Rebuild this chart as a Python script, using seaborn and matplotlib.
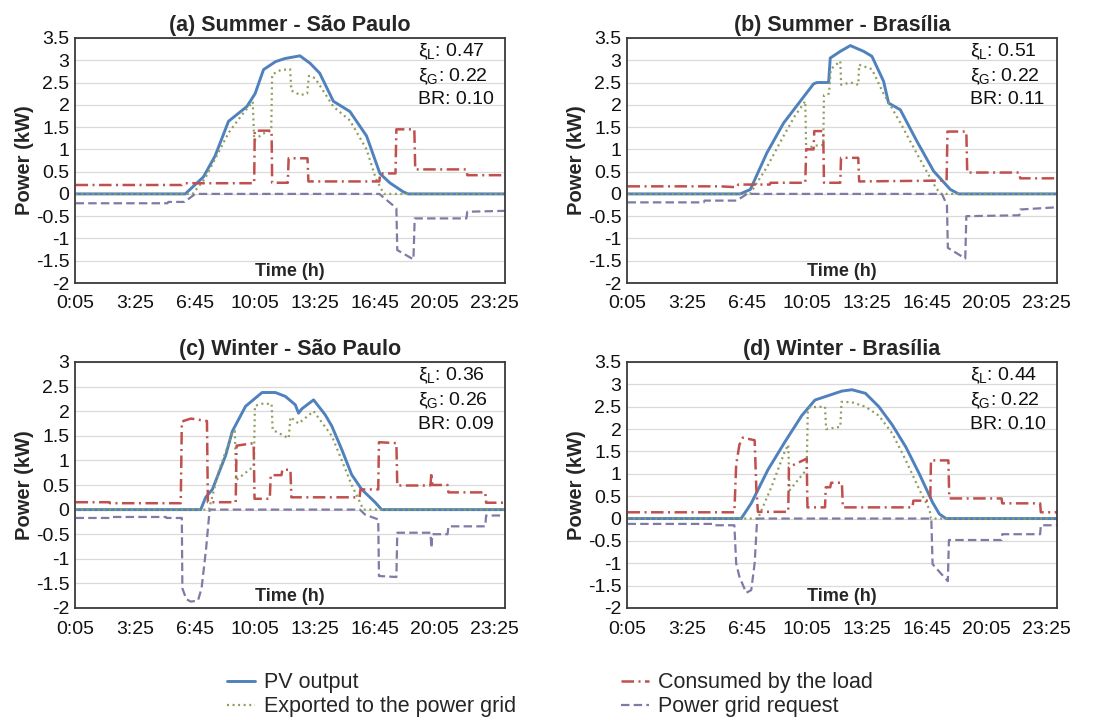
import matplotlib
matplotlib.use("Agg")
import matplotlib.pyplot as plt
from matplotlib.lines import Line2D
import pandas as pd
import seaborn as sns

# ---- time axis (hours of the day, 5-minute resolution, 0:05 .. 24:00) ----
tick_hours = [0.0833, 3.4167, 6.75, 10.0833, 13.4167, 16.75, 20.0833, 23.4167]
tick_labels = ["0:05", "3:25", "6:45", "10:05", "13:25", "16:45", "20:05", "23:25"]

panel_titles = ["(a) Summer - São Paulo", "(b) Summer - Brasília",
                "(c) Winter - São Paulo", "(d) Winter - Brasília"]
xi_load = [0.47, 0.51, 0.36, 0.44]
xi_grid = [0.22, 0.22, 0.26, 0.22]
br_ratio = [0.10, 0.11, 0.09, 0.10]

series_names = ["PV output", "Exported to the power grid",
                "Consumed by the load", "Power grid request"]

# ---- (a) Summer - São Paulo ----
a_pv_t = [0.08, 6.19, 7.2, 7.85, 8.6, 9.62, 10.08, 10.55, 11.22, 11.75, 12.58, 13.15, 13.68,
          14.44, 15.36, 16.29, 17.03, 17.58, 18.32, 18.6, 24.0]
a_pv_kw = [0, 0, 0.38, 0.85, 1.63, 1.96, 2.25, 2.79, 2.97, 3.04, 3.10, 2.93, 2.71,
           2.08, 1.85, 1.3, 0.46, 0.25, 0.05, 0, 0]
a_exp_t = [0.08, 6.6, 7.3, 8.0, 8.6, 9.3, 9.95, 10.03, 10.5, 10.98, 11.03, 11.5, 12.03, 12.1,
           12.6, 12.98, 13.08, 13.42, 14.44, 15.36, 16.29, 16.8, 17.25, 24.0]
a_exp_kw = [0, 0, 0.35, 0.9, 1.37, 1.75, 2.07, 1.2, 1.35, 1.42, 2.68, 2.78, 2.8, 2.32,
            2.22, 2.25, 2.65, 2.6, 1.96, 1.65, 1.0, 0.35, 0, 0]
a_load_t = [0.08, 6.0, 6.1, 10.03, 10.06, 11.0, 11.03, 11.9, 11.95, 13.0, 13.05, 17.0, 17.05,
            17.9, 17.95, 18.95, 19.0, 21.85, 21.9, 24.0]
a_load_kw = [0.2, 0.2, 0.24, 0.24, 1.42, 1.42, 0.25, 0.25, 0.8, 0.8, 0.28, 0.28, 0.46,
             0.46, 1.45, 1.45, 0.55, 0.55, 0.42, 0.42]
a_grid_t = [0.08, 5.2, 5.25, 6.15, 6.75, 17.0, 17.95, 18.0, 18.9, 18.97, 21.85, 21.9, 24.0]
a_grid_kw = [-0.21, -0.21, -0.18, -0.18, 0, 0, -0.32, -1.26, -1.47, -0.55, -0.55, -0.4, -0.38]

# ---- (b) Summer - Brasília ----
b_pv_t = [0.08, 6.36, 6.92, 7.84, 8.77, 9.70, 10.44, 10.63, 11.28, 11.37, 11.93, 12.49, 13.23,
          13.69, 14.34, 14.62, 15.27, 16.2, 17.13, 18.06, 18.52, 24.0]
b_pv_kw = [0, 0, 0.1, 0.92, 1.59, 2.08, 2.47, 2.5, 2.5, 3.05, 3.2, 3.33, 3.2,
           3.09, 2.53, 2.04, 1.89, 1.18, 0.51, 0.1, 0, 0]
b_exp_t = [0.08, 6.9, 7.84, 8.77, 9.4, 9.98, 10.03, 10.44, 10.98, 11.02, 11.3, 11.4, 11.93,
           11.98, 12.5, 12.93, 12.98, 13.69, 14.34, 15.27, 16.2, 17.13, 17.5, 24.0]
b_exp_kw = [0, 0, 0.6, 1.3, 1.75, 2.08, 1.0, 1.08, 1.1, 2.22, 2.25, 2.8, 2.98,
            2.45, 2.5, 2.45, 2.9, 2.8, 2.25, 1.6, 0.9, 0.22, 0, 0]
b_load_t = [0.08, 5.25, 6.17, 6.25, 8.0, 8.05, 9.98, 10.03, 10.44, 10.48, 10.98, 11.02, 11.93,
            11.97, 12.93, 12.98, 17.85, 17.9, 18.95, 19.0, 21.9, 21.95, 24.0]
b_load_kw = [0.17, 0.17, 0.15, 0.21, 0.21, 0.25, 0.25, 1.0, 1.0, 1.41, 1.41, 0.25, 0.25,
             0.81, 0.81, 0.28, 0.3, 1.4, 1.4, 0.48, 0.48, 0.35, 0.35]
b_grid_t = [0.08, 4.32, 4.37, 6.17, 6.73, 17.59, 17.87, 17.92, 18.89, 18.95, 21.9, 21.95, 24.0]
b_grid_kw = [-0.19, -0.19, -0.15, -0.15, 0, 0, -0.25, -1.21, -1.45, -0.5, -0.48, -0.35, -0.3]

# ---- (c) Winter - São Paulo ----
c_pv_t = [0.08, 7.05, 7.33, 7.7, 8.44, 8.81, 9.55, 10.47, 11.21, 11.77, 12.32, 12.5, 12.69,
          13.34, 13.98, 14.35, 14.91, 15.46, 16.02, 16.76, 17.13, 24.0]
c_pv_kw = [0, 0, 0.25, 0.41, 1.1, 1.59, 2.1, 2.38, 2.38, 2.3, 2.13, 1.96, 2.05,
           2.23, 1.93, 1.7, 1.22, 0.71, 0.41, 0.15, 0, 0]
c_exp_t = [0.08, 7.51, 8.07, 8.81, 8.95, 9.03, 10.01, 10.07, 10.47, 11.0, 11.06, 11.95, 12.05,
           12.5, 13.34, 14.35, 14.91, 15.46, 15.92, 16.11, 24.0]
c_exp_kw = [0, 0, 0.8, 1.55, 1.6, 0.6, 0.88, 2.11, 2.15, 2.15, 1.62, 1.45, 1.88,
            1.75, 2.0, 1.5, 1.0, 0.5, 0.15, 0, 0]
c_load_t = [0.08, 1.97, 2.0, 5.94, 6.0, 6.5, 7.4, 7.45, 9.0, 9.05, 10.0, 10.05, 10.9, 10.95,
            11.55, 11.6, 12.05, 12.1, 15.9, 15.95, 16.94, 16.98, 17.95, 18.0, 19.85, 19.9,
            19.95, 20.8, 20.85, 22.9, 22.95, 24.0]
c_load_kw = [0.15, 0.15, 0.13, 0.13, 1.79, 1.85, 1.8, 0.15, 0.15, 1.3, 1.35, 0.22, 0.22, 0.7,
             0.7, 0.81, 0.81, 0.25, 0.25, 0.41, 0.41, 1.37, 1.35, 0.49, 0.49, 0.75,
             0.5, 0.5, 0.35, 0.35, 0.14, 0.14]
c_grid_t = [0.08, 1.97, 2.0, 5.11, 5.15, 6.0, 6.03, 6.25, 6.5, 6.9, 7.1, 7.35, 7.55, 15.92,
            16.2, 16.94, 16.98, 17.95, 18.0, 19.85, 19.9, 19.95, 20.8, 20.85, 22.9, 22.95, 24.0]
c_grid_kw = [-0.17, -0.17, -0.15, -0.15, -0.17, -0.17, -1.6, -1.82, -1.87, -1.85, -1.6, -0.8,
             0, 0, -0.1, -0.2, -1.35, -1.37, -0.47, -0.47, -0.78, -0.5, -0.5, -0.34, -0.34,
             -0.12, -0.12]

# ---- (d) Winter - Brasília ----
d_pv_t = [0.08, 6.41, 6.97, 7.9, 8.84, 9.78, 10.52, 11.27, 12.02, 12.58, 13.33, 14.08, 14.83,
          15.58, 16.33, 17.07, 17.45, 17.82, 24.0]
d_pv_kw = [0, 0, 0.34, 1.09, 1.71, 2.3, 2.65, 2.75, 2.85, 2.88, 2.8, 2.5, 2.09,
           1.6, 1.0, 0.36, 0.1, 0, 0]
d_exp_t = [0.08, 7.34, 8.09, 8.84, 9.03, 9.1, 10.06, 10.12, 10.24, 11.08, 11.14, 11.93, 12.0,
           12.58, 13.33, 14.08, 14.83, 15.58, 16.33, 16.9, 16.98, 24.0]
d_exp_kw = [0, 0, 0.7, 1.5, 1.65, 0.63, 1.1, 2.43, 2.49, 2.5, 2.0, 2.05, 2.61,
            2.6, 2.5, 2.3, 1.9, 1.3, 0.65, 0.2, 0, 0]
d_load_t = [0.08, 6.03, 6.13, 6.31, 6.5, 7.16, 7.25, 7.34, 9.03, 9.07, 10.06, 10.1, 11.08,
            11.12, 11.37, 11.42, 12.02, 12.07, 15.95, 16.0, 16.94, 16.98, 17.95, 18.0, 20.91,
            20.95, 23.06, 23.1, 24.0]
d_load_kw = [0.14, 0.14, 1.2, 1.65, 1.81, 1.75, 0.7, 0.15, 0.15, 1.15, 1.34, 0.25, 0.25,
             0.7, 0.7, 0.8, 0.8, 0.25, 0.25, 0.4, 0.4, 1.3, 1.3, 0.45, 0.45,
             0.34, 0.34, 0.14, 0.14]
d_grid_t = [0.08, 4.91, 4.95, 6.03, 6.13, 6.31, 6.69, 6.97, 7.16, 7.3, 17.0, 17.07, 17.92,
            17.98, 20.91, 20.95, 23.06, 23.1, 24.0]
d_grid_kw = [-0.12, -0.12, -0.15, -0.15, -1.0, -1.3, -1.66, -1.6, -1.0, 0, 0, -1.02, -1.4,
             -0.48, -0.48, -0.35, -0.35, -0.15, -0.15]

panel_series = [
    [(a_pv_t, a_pv_kw), (a_exp_t, a_exp_kw), (a_load_t, a_load_kw), (a_grid_t, a_grid_kw)],
    [(b_pv_t, b_pv_kw), (b_exp_t, b_exp_kw), (b_load_t, b_load_kw), (b_grid_t, b_grid_kw)],
    [(c_pv_t, c_pv_kw), (c_exp_t, c_exp_kw), (c_load_t, c_load_kw), (c_grid_t, c_grid_kw)],
    [(d_pv_t, d_pv_kw), (d_exp_t, d_exp_kw), (d_load_t, d_load_kw), (d_grid_t, d_grid_kw)],
]
y_tops = [3.5, 3.5, 3.0, 3.5]

# ---- styling ----
sns.set_theme(style="white")
plt.rcParams["font.family"] = ["Liberation Sans", "DejaVu Sans"]
plt.rcParams["mathtext.fontset"] = "custom"
plt.rcParams["mathtext.rm"] = "Liberation Sans"
plt.rcParams["mathtext.it"] = "Liberation Sans:italic"
plt.rcParams["mathtext.bf"] = "Liberation Sans:bold"

line_styles = {
    "PV output": dict(color="#4F81BD", lw=2.1, linestyle="-"),
    "Exported to the power grid": dict(color="#8E9E5E", lw=1.6, linestyle=(0, (0.9, 1.6))),
    "Consumed by the load": dict(color="#C0504D", lw=1.8, linestyle=(0, (5, 1.8, 0.8, 1.8))),
    "Power grid request": dict(color="#7F7AA6", lw=1.6, linestyle=(0, (3.8, 1.9))),
}

fig = plt.figure(figsize=(11, 7.19), dpi=100)
W, H = 1100, 719
boxes = [(75, 38, 430, 245), (627, 38, 430, 245), (75, 362, 430, 246), (627, 362, 430, 246)]

for i, (x0, y0, w, h) in enumerate(boxes):
    ax = fig.add_axes([x0 / W, 1 - (y0 + h) / H, w / W, h / H])
    for name, (t, kw) in zip(series_names, panel_series[i]):
        df = pd.DataFrame({"hour": t, "kW": kw})
        sns.lineplot(data=df, x="hour", y="kW", ax=ax, sort=False, estimator=None,
                     solid_capstyle="butt", dash_capstyle="butt", **line_styles[name])

    ymin, ymax = -2.0, y_tops[i]
    ax.set_ylim(ymin, ymax)
    ax.set_xlim(0.05, 24.0)
    yt = [ymin + 0.5 * k for k in range(int(round((ymax - ymin) / 0.5)) + 1)]
    ax.set_yticks(yt)
    ax.set_yticklabels([f"{v:g}" for v in yt])
    ax.set_xticks(tick_hours)
    ax.set_xticklabels(tick_labels)
    ax.tick_params(axis="both", length=0, labelsize=14, colors="#111111")
    ax.tick_params(axis="x", pad=9)
    ax.tick_params(axis="y", pad=4)
    ax.yaxis.grid(True, color="#DADADA", lw=0.9)
    ax.xaxis.grid(False)
    ax.set_axisbelow(True)
    for sp in ax.spines.values():
        sp.set_visible(True)
        sp.set_color("#3A3A3A")
        sp.set_linewidth(1.3)

    ax.set_title(panel_titles[i], fontsize=15.5, fontweight="bold", pad=5)
    ax.set_ylabel("Power (kW)", fontsize=14.5, fontweight="bold", labelpad=1)
    ax.set_xlabel("Time (h)", fontsize=13, fontweight="bold")
    ax.xaxis.set_label_coords(0.5, 0.045)
    ax.xaxis.label.set_va("center")

    txt_kw = dict(transform=ax.transAxes, fontsize=14, ha="left", va="center", color="#111111")
    ax.text(0.797, 0.943, "ξ$_\\mathregular{L}$: " + f"{xi_load[i]:.2f}", **txt_kw)
    ax.text(0.797, 0.841, "ξ$_\\mathregular{G}$: " + f"{xi_grid[i]:.2f}", **txt_kw)
    ax.text(0.797, 0.747, f"BR: {br_ratio[i]:.2f}", **txt_kw)

handles = [Line2D([0], [0], **line_styles[n]) for n in series_names]
fig.legend(handles, series_names, loc="center", bbox_to_anchor=(0.5, 0.034), ncol=2,
           frameon=False, columnspacing=4.9, handlelength=1.3, handletextpad=0.4,
           labelspacing=0.14, prop=dict(size=15.5))

fig.savefig("out.png", dpi=100, facecolor="white")
